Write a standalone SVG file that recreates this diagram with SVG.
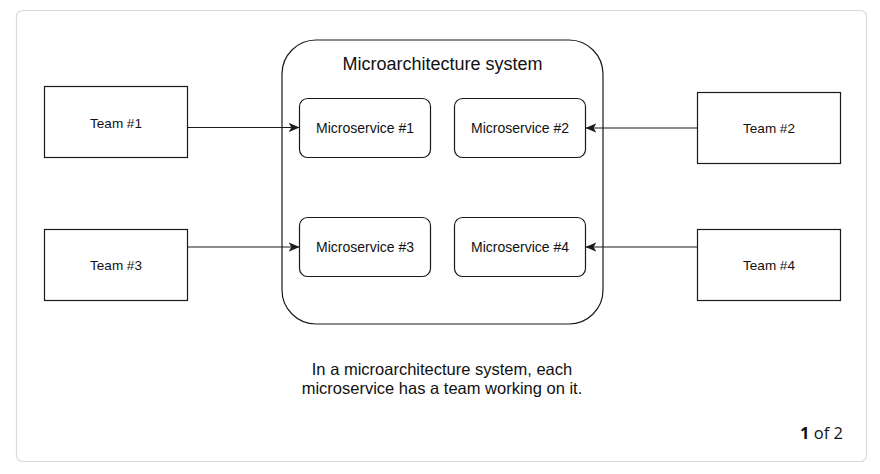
<svg xmlns="http://www.w3.org/2000/svg" width="880" height="474" viewBox="0 0 880 474">
  <style>
    .box { fill: #ffffff; stroke: #1a1a1a; stroke-width: 1.2; }
    .lbl { font-family: "Liberation Sans", Arial, sans-serif; fill: #111111; text-anchor: middle; }
    .conn { stroke: #1a1a1a; stroke-width: 1.2; fill: none; marker-end: url(#arrow); }
  </style>
  <defs>
    <marker id="arrow" viewBox="0 0 10 10" refX="9.5" refY="5" markerWidth="11" markerHeight="11" markerUnits="userSpaceOnUse" orient="auto">
      <path d="M0,0.8 L10,5 L0,9.2 L2.6,5 Z" fill="#1a1a1a"/>
    </marker>
  </defs>
  <rect x="0" y="0" width="880" height="474" fill="#ffffff"/>
  <rect id="card" x="16.5" y="10.5" width="850" height="451" rx="6" fill="#ffffff" stroke="#dadada" stroke-width="1.2"/>

  <g id="system">
    <rect class="box" x="282" y="40" width="321" height="284" rx="34"/>
    <text class="lbl" x="442.5" y="70" font-size="18">Microarchitecture system</text>
  </g>

  <g id="ms1">
    <rect class="box" x="299.5" y="98.5" width="131" height="59" rx="8"/>
    <text class="lbl" x="365" y="133" font-size="14">Microservice #1</text>
  </g>
  <g id="ms2">
    <rect class="box" x="454.5" y="98.5" width="131" height="59" rx="8"/>
    <text class="lbl" x="520" y="133" font-size="14">Microservice #2</text>
  </g>
  <g id="ms3">
    <rect class="box" x="299.5" y="217.5" width="131" height="59" rx="8"/>
    <text class="lbl" x="365" y="252" font-size="14">Microservice #3</text>
  </g>
  <g id="ms4">
    <rect class="box" x="454.5" y="217.5" width="131" height="59" rx="8"/>
    <text class="lbl" x="520" y="252" font-size="14">Microservice #4</text>
  </g>

  <g id="team1">
    <rect class="box" x="44.5" y="86.5" width="143" height="71"/>
    <text class="lbl" x="116" y="128" font-size="13.5">Team #1</text>
  </g>
  <g id="team2">
    <rect class="box" x="697.5" y="92.5" width="143" height="71"/>
    <text class="lbl" x="769" y="133" font-size="13.5">Team #2</text>
  </g>
  <g id="team3">
    <rect class="box" x="44.5" y="229.5" width="143" height="71"/>
    <text class="lbl" x="116" y="270" font-size="13.5">Team #3</text>
  </g>
  <g id="team4">
    <rect class="box" x="697.5" y="229.5" width="143" height="71"/>
    <text class="lbl" x="769" y="270" font-size="13.5">Team #4</text>
  </g>

  <g id="connectors">
    <line class="conn" x1="187.5" y1="127.5" x2="299" y2="127.5"/>
    <line class="conn" x1="697.5" y1="128" x2="586" y2="128"/>
    <line class="conn" x1="187.5" y1="247" x2="299" y2="247"/>
    <line class="conn" x1="697.5" y1="247" x2="586" y2="247"/>
  </g>

  <g id="caption">
    <text class="lbl" x="442" y="375" font-size="16.5">In a microarchitecture system, each</text>
    <text class="lbl" x="442" y="393.5" font-size="16.5">microservice has a team working on it.</text>
  </g>

  <g id="pager">
    <text x="843" y="438.5" font-family="'Open Sans', 'Noto Sans', sans-serif" font-size="16.5" fill="#111111" text-anchor="end"><tspan font-weight="bold">1</tspan> of 2</text>
  </g>
</svg>
